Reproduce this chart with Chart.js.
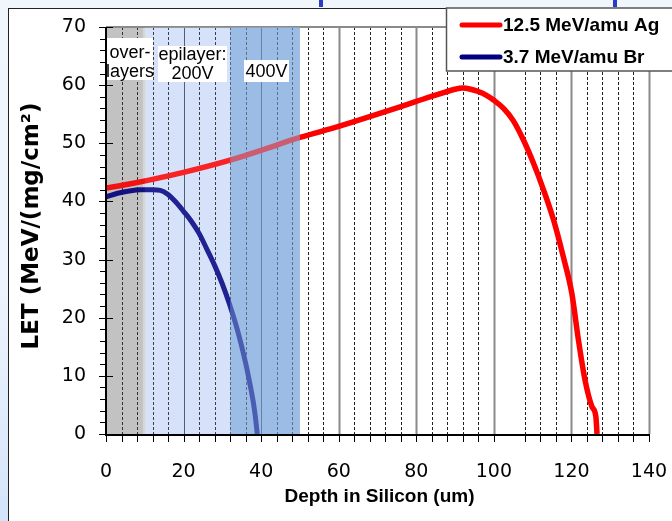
<!DOCTYPE html>
<html>
<head>
<meta charset="utf-8">
<script src="https://cdn.jsdelivr.net/npm/chart.js@4.4.0/dist/chart.umd.min.js"></script>
<style>
html, body { margin: 0; padding: 0; }
body { width: 672px; height: 521px; overflow: hidden; position: relative; background: #f1f6fd; }
#strip { position: absolute; left: 0; top: 0; width: 8px; height: 521px; background: linear-gradient(#f1f6fd 0%, #eef4fd 55%, #d3e4f9 100%); }
#frame { position: absolute; left: 8px; top: 8px; width: 700px; height: 600px; border-left: 1.5px solid #222; border-top: 1.5px solid #222; background: #fff; }
.mark { position: absolute; top: 0; width: 4px; height: 7px; background: #2b3bc8; }
#wrap { position: absolute; left: 0; top: 0; width: 672px; height: 521px; }
</style>
</head>
<body>
<div id="strip"></div>
<div id="frame"></div>
<div class="mark" style="left:319px"></div>
<div class="mark" style="left:613px"></div>
<div id="wrap"><canvas id="c" width="672" height="521"></canvas></div>
<script>
// 12.5 MeV/amu Ag
const agDepth = [0, 6, 12, 20, 32, 40, 50, 60, 70, 80, 86, 90, 92, 94, 96, 98, 100, 102.5, 105, 107.6, 110.2, 112.8, 115.4, 117.9, 120.1, 121.8, 123.5, 125.3, 126.3, 126.6];
const agLet   = [42.3, 43.0, 43.8, 45.0, 47.1, 48.8, 51.0, 52.9, 55.0, 57.2, 58.5, 59.3, 59.5, 59.3, 58.9, 58.3, 57.4, 56.0, 53.9, 50.6, 46.6, 42.0, 36.8, 30.5, 24.2, 16.2, 9.3, 4.7, 3.0, 0];
// 3.7 MeV/amu Br
const brDepth = [0, 3, 6, 9, 12, 14, 16, 18, 20, 22, 24, 26, 28, 30, 32, 34, 36, 37, 38, 38.5, 39];
const brLet   = [40.8, 41.4, 41.8, 42.0, 42.0, 41.9, 41.2, 39.9, 38.3, 36.6, 34.5, 31.8, 29.0, 25.8, 22.0, 17.6, 12.2, 9.0, 5.4, 3.0, 0];

const seriesNames = ['12.5 MeV/amu Ag', '3.7 MeV/amu Br'];
const xTicks = [0, 20, 40, 60, 80, 100, 120, 140];
const yTicks = [0, 10, 20, 30, 40, 50, 60, 70];
// layer boundaries (um): over-layers, epilayer 200V, 400V
const bandEdges = [0, 10, 32, 50];

const FONT = '"DejaVu Sans", sans-serif';
const ARIAL = '"Liberation Sans", Arial, sans-serif';

function pts(xs, ys) {
    return xs.map(function (x, i) { return { x: x, y: ys[i] }; });
}

const decor = {
    id: 'decor',
    beforeDatasetsDraw: function (chart) {
        const ctx = chart.ctx, a = chart.chartArea;
        const xs = chart.scales.x;
        const bandColors = ['#c9c9c9', '#d6e1fb', '#a1c0e7'];
        ctx.save();
        for (let i = 0; i < bandColors.length; i++) {
            const x0 = xs.getPixelForValue(bandEdges[i]);
            const x1 = xs.getPixelForValue(bandEdges[i + 1]);
            ctx.fillStyle = bandColors[i];
            ctx.fillRect(x0, a.top, x1 - x0, a.bottom - a.top);
        }
        // light edge at the end of the over-layer band
        ctx.fillStyle = '#dedede';
        ctx.fillRect(xs.getPixelForValue(bandEdges[1]) - 2, a.top, 3, a.bottom - a.top);
        // minor dashed grid every 4 um
        ctx.setLineDash([3, 2]);
        ctx.lineWidth = 1;
        ctx.strokeStyle = '#222';
        for (let v = 4; v < 140; v += 4) {
            if (v % 20 === 0 || v === 104) continue;
            const x = Math.round(xs.getPixelForValue(v)) + 0.5;
            ctx.beginPath(); ctx.moveTo(x, a.top); ctx.lineTo(x, a.bottom); ctx.stroke();
        }
        ctx.setLineDash([]);
        xTicks.forEach(function (v) {
            if (v === 0) return;
            const x = Math.round(xs.getPixelForValue(v));
            if (v <= 40) { ctx.strokeStyle = '#3c4565'; ctx.lineWidth = 1; }
            else { ctx.strokeStyle = '#8a8a8a'; ctx.lineWidth = 2; }
            ctx.beginPath(); ctx.moveTo(x + 0.5, a.top); ctx.lineTo(x + 0.5, a.bottom); ctx.stroke();
        });
        // top border of plot
        ctx.strokeStyle = '#8a8a8a'; ctx.lineWidth = 2;
        ctx.beginPath(); ctx.moveTo(a.left, a.top); ctx.lineTo(446, a.top); ctx.stroke();
        ctx.restore();
    },
    afterDatasetsDraw: function (chart) {
        const ctx = chart.ctx, a = chart.chartArea;
        const xs = chart.scales.x, ys = chart.scales.y;
        ctx.save();
        // tint of the layer bands over the curves
        const tints = ['rgba(150,150,150,0.12)', 'rgba(214,225,251,0.15)', 'rgba(150,185,228,0.5)'];
        for (let i = 0; i < tints.length; i++) {
            const x0 = xs.getPixelForValue(bandEdges[i]);
            const x1 = xs.getPixelForValue(bandEdges[i + 1]);
            ctx.fillStyle = tints[i];
            ctx.fillRect(x0, a.top, x1 - x0, a.bottom - a.top);
        }
        // band labels
        ctx.font = '18px ' + ARIAL;
        ctx.textAlign = 'center';
        ctx.textBaseline = 'middle';
        function box(x, y, w, h, lines, ly) {
            ctx.fillStyle = '#fff';
            ctx.fillRect(x, y, w, h);
            ctx.fillStyle = '#000';
            lines.forEach(function (t, i) { ctx.fillText(t, x + w / 2, ly[i]); });
        }
        box(107, 38, 46, 42, ['over-', 'layers'], [53, 72]);
        box(158, 46, 69, 36, ['epilayer:', '200V'], [55, 74]);
        box(244, 60, 45, 22, ['400V'], [72]);

        // axes
        ctx.strokeStyle = '#000';
        ctx.lineWidth = 2;
        ctx.beginPath(); ctx.moveTo(a.left, a.top); ctx.lineTo(a.left, a.bottom + 1); ctx.lineTo(a.right + 1, a.bottom + 1); ctx.stroke();
        ctx.lineWidth = 1;
        for (let v = 0; v <= 70; v += 2) {
            const y = Math.round(ys.getPixelForValue(v)) + 0.5;
            const major = v % 10 === 0;
            ctx.beginPath();
            ctx.moveTo(a.left - (major ? 7 : 6), y);
            ctx.lineTo(major ? a.left + 7 : a.left, y);
            ctx.stroke();
        }
        for (let v = 0; v <= 140; v += 4) {
            if (v === 104) continue;
            const x = Math.round(xs.getPixelForValue(v)) + 0.5;
            ctx.beginPath(); ctx.moveTo(x, a.bottom); ctx.lineTo(x, a.bottom + 8); ctx.stroke();
        }

        // axis titles
        ctx.fillStyle = '#000';
        ctx.font = 'bold 19px ' + ARIAL;
        ctx.fillText('Depth in Silicon (um)', (a.left + a.right) / 2 + 2, 497);
        ctx.save();
        ctx.translate(32, 226);
        ctx.rotate(-Math.PI / 2);
        ctx.font = 'bold 23px ' + FONT;
        ctx.fillText('LET (MeV/(mg/cm²)', 0, 0);
        ctx.restore();

        // legend
        ctx.fillStyle = '#fff';
        ctx.fillRect(446, 8, 240, 63);
        ctx.strokeStyle = '#555';
        ctx.lineWidth = 1.5;
        ctx.strokeRect(446.5, 8, 240, 63);
        const colors = ['#ff0000', '#000080'];
        const rows = [25, 57];
        ctx.textAlign = 'left';
        ctx.font = 'bold 19px ' + ARIAL;
        for (let i = 0; i < 2; i++) {
            ctx.strokeStyle = colors[i];
            ctx.lineWidth = 5;
            ctx.lineCap = 'round';
            ctx.beginPath(); ctx.moveTo(462, rows[i]); ctx.lineTo(500, rows[i]); ctx.stroke();
            ctx.fillStyle = '#000';
            ctx.fillText(seriesNames[i], 503, rows[i] + 1);
        }
        ctx.restore();
    }
};

new Chart(document.getElementById('c'), {
    type: 'line',
    data: {
        datasets: [{
            label: seriesNames[1],
            data: pts(brDepth, brLet),
            borderColor: '#000080',
            borderWidth: 5,
            pointRadius: 0,
            cubicInterpolationMode: 'monotone',
            fill: false
        }, {
            label: seriesNames[0],
            data: pts(agDepth, agLet),
            borderColor: '#ff0000',
            borderWidth: 5.5,
            pointRadius: 0,
            cubicInterpolationMode: 'monotone',
            fill: false
        }]
    },
    options: {
        responsive: false,
        animation: false,
        devicePixelRatio: 1,
        layout: { padding: { left: 0, top: 27, right: 23, bottom: 0 } },
        plugins: { legend: { display: false }, tooltip: { enabled: false } },
        scales: {
            x: {
                type: 'linear', min: 0, max: 140,
                afterBuildTicks: function (s) { s.ticks = xTicks.map(function (v) { return { value: v }; }); },
                afterFit: function (s) { s.height = 87; s.paddingLeft = 0; s.paddingRight = 0; },
                grid: { display: false, drawTicks: false },
                border: { display: false },
                ticks: { color: '#000', padding: 27, maxRotation: 0, font: { family: FONT, size: 19 } }
            },
            y: {
                min: 0, max: 70,
                afterBuildTicks: function (s) { s.ticks = yTicks.map(function (v) { return { value: v }; }); },
                afterFit: function (s) { s.width = 106; s.paddingTop = 0; s.paddingBottom = 0; },
                grid: { display: false, drawTicks: false },
                border: { display: false },
                ticks: { color: '#000', padding: 20, font: { family: FONT, size: 19 } }
            }
        }
    },
    plugins: [decor]
});
</script>
</body>
</html>
